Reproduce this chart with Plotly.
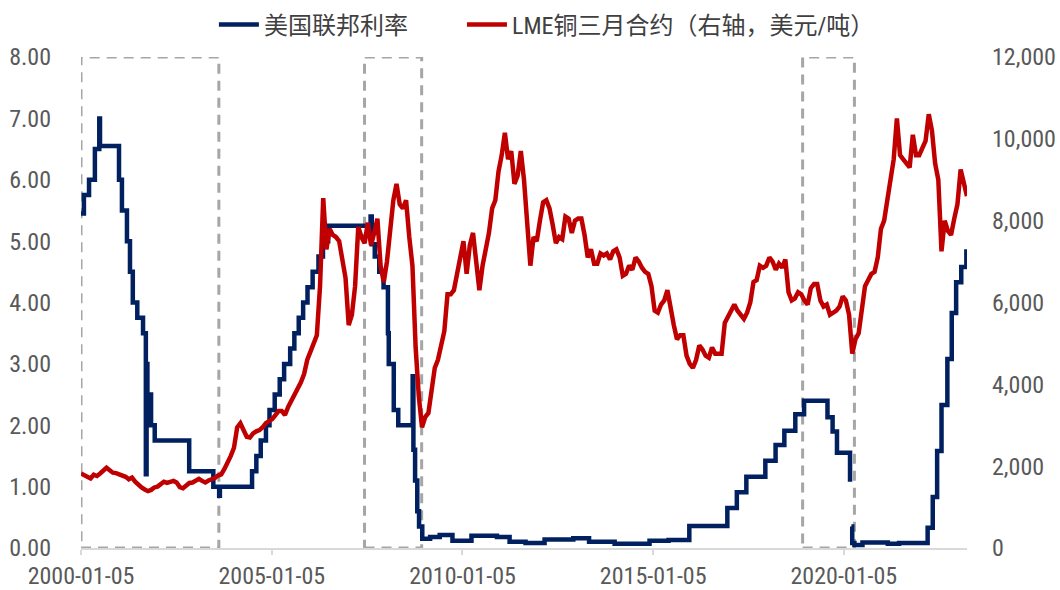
import pandas as pd
import plotly.graph_objects as go

# ---------------- data ----------------
# US Fed effective rate: level change points (step series)
fed_dates = [
    "2000-01-05", "2000-02-02", "2000-03-22", "2000-05-17", "2000-06-28", "2000-07-05",
    "2001-01-03", "2001-01-31", "2001-03-20", "2001-04-18", "2001-05-15", "2001-06-27",
    "2001-08-21", "2001-09-17", "2001-09-24", "2001-10-02", "2001-11-06", "2001-12-11",
    "2002-11-06", "2003-06-25", "2003-08-20", "2003-08-27",
    "2004-06-30", "2004-08-10", "2004-09-21", "2004-11-10", "2004-12-14",
    "2005-02-02", "2005-03-22", "2005-05-03", "2005-06-30", "2005-08-09", "2005-09-20",
    "2005-11-01", "2005-12-13", "2006-01-31", "2006-03-28", "2006-05-10", "2006-06-29",
    "2007-08-09", "2007-08-20", "2007-09-18", "2007-10-31", "2007-12-11",
    "2008-01-22", "2008-01-30", "2008-03-18", "2008-04-30", "2008-09-15", "2008-09-22",
    "2008-10-08", "2008-10-29", "2008-11-15", "2008-12-16",
    "2009-03-01", "2009-06-01", "2009-10-01", "2010-04-01", "2010-12-01", "2011-04-01",
    "2011-09-01", "2012-03-01", "2012-12-01", "2013-05-01", "2014-01-01", "2014-12-01",
    "2015-06-01", "2015-12-17", "2016-12-15", "2017-03-16", "2017-06-15", "2017-12-14",
    "2018-03-22", "2018-06-14", "2018-09-27", "2018-12-20", "2019-08-01", "2019-09-19",
    "2019-10-31", "2020-03-04", "2020-03-10", "2020-03-17", "2020-03-25", "2020-04-15",
    "2020-07-01", "2021-03-01", "2021-06-17", "2022-03-17", "2022-05-05", "2022-06-16",
    "2022-07-28", "2022-09-22", "2022-11-03", "2022-12-15", "2023-02-02", "2023-03-23",
    "2023-03-29",
]
fed_rates = [
    5.45, 5.75, 6.00, 6.50, 7.00, 6.55,
    6.00, 5.50, 5.00, 4.50, 4.00, 3.75,
    3.50, 1.20, 3.00, 2.50, 2.00, 1.75,
    1.25, 1.00, 0.85, 1.00,
    1.25, 1.50, 1.75, 2.00, 2.25,
    2.50, 2.75, 3.00, 3.25, 3.50, 3.75,
    4.00, 4.25, 4.50, 4.75, 5.00, 5.25,
    5.40, 4.95, 4.75, 4.50, 4.25,
    3.50, 3.00, 2.25, 2.00, 2.80, 1.60,
    1.10, 0.60, 0.35, 0.15,
    0.18, 0.21, 0.12, 0.20, 0.18, 0.10,
    0.08, 0.14, 0.16, 0.10, 0.07, 0.12,
    0.13, 0.36, 0.65, 0.91, 1.16, 1.42,
    1.68, 1.91, 2.18, 2.40, 2.13, 1.90,
    1.55, 1.08, None, 0.35, 0.08, 0.05,
    0.09, 0.07, 0.08, 0.33, 0.83, 1.58,
    2.33, 3.08, 3.83, 4.33, 4.58, 4.83,
    4.83,
]

# LME copper 3M (USD/t), monthly, Jan 2000 - Mar 2023
copper_prices = [
    1820, 1780, 1730, 1700, 1790, 1760, 1820, 1900, 1960, 1900, 1840, 1830,  # 2000
    1800, 1770, 1740, 1680, 1720, 1620, 1540, 1480, 1430, 1390, 1420, 1480,  # 2001
    1500, 1560, 1620, 1590, 1610, 1640, 1600, 1490, 1460, 1510, 1590, 1600,  # 2002
    1650, 1690, 1640, 1600, 1650, 1680, 1710, 1770, 1800, 1930, 2070, 2250,  # 2003
    2450, 2950, 3050, 2850, 2720, 2700, 2800, 2850, 2880, 2950, 3050, 3100,  # 2004
    3150, 3250, 3350, 3350, 3250, 3450, 3600, 3750, 3850, 4050, 4250, 4600,  # 2005
    4800, 5000, 5200, 6400, 8550, 7300, 7800, 7650, 7600, 7500, 7000, 6600,  # 2006
    5450, 5700, 6400, 7850, 7600, 7450, 7950, 7400, 7700, 8050, 6900, 6500,  # 2007
    7000, 7900, 8500, 8900, 8400, 8300, 8500, 7600, 6900, 4900, 3700, 2950,  # 2008
    3200, 3300, 3800, 4400, 4600, 5000, 5300, 6200, 6200, 6300, 6700, 7000,  # 2009
    7500, 6700, 7400, 7700, 6900, 6300, 6900, 7300, 7700, 8300, 8500, 9200,  # 2010
    9600, 10150, 9500, 9700, 8900, 9100, 9700, 9000, 8100, 6900, 7600, 7500,  # 2011
    8000, 8450, 8500, 8300, 7900, 7450, 7600, 7550, 8100, 8050, 7700, 8000,  # 2012
    8050, 8050, 7650, 7100, 7300, 6950, 6950, 7200, 7150, 7200, 7050, 7250,  # 2013
    7300, 7100, 6650, 6700, 6900, 6800, 7100, 7000, 6850, 6750, 6700, 6400,  # 2014
    5800, 5750, 5950, 6050, 6300, 5800, 5450, 5100, 5200, 5200, 4700, 4500,  # 2015
    4400, 4600, 4950, 4850, 4700, 4650, 4900, 4750, 4750, 4750, 5500, 5650,  # 2016
    5750, 5950, 5800, 5700, 5600, 5750, 6000, 6500, 6550, 6900, 6850, 6900,  # 2017
    7100, 7000, 6800, 6950, 6850, 7050, 6250, 6050, 6100, 6250, 6200, 6050,  # 2018
    5950, 6350, 6450, 6450, 6050, 5900, 5950, 5700, 5750, 5800, 5900, 6150,  # 2019
    6050, 5700, 4750, 5100, 5250, 5750, 6400, 6550, 6700, 6750, 7100, 7800,  # 2020
    8000, 8500, 9000, 9500, 10500, 9600, 9500, 9400, 9300, 10100, 9600, 9600,  # 2021
    9800, 9950, 10600, 10200, 9400, 9000, 7250, 8000, 7750, 7650, 8050, 8400,  # 2022
    9250, 8950, 8600,  # 2023
]

x_tick_dates = ["2000-01-05", "2005-01-05", "2010-01-05", "2015-01-05", "2020-01-05"]
x_tick_labels = ["2000-01-05", "2005-01-05", "2010-01-05", "2015-01-05", "2020-01-05"]
left_ticks = [0, 1, 2, 3, 4, 5, 6, 7, 8]
right_ticks = [0, 2000, 4000, 6000, 8000, 10000, 12000]

# highlighted periods (dashed boxes)
box_starts = ["2000-01-05", "2007-06-12", "2018-12-06"]
box_ends = ["2003-08-17", "2008-12-10", "2020-04-15"]

series_names = ["美国联邦利率", "LME铜三月合约（右轴，美元/吨）"]

# ---------------- figure ----------------
copper_dates = pd.date_range("2000-01-05", "2023-03-29", periods=len(copper_prices))

TICK_FONT = dict(family="Liberation Sans Narrow, Arial Narrow, Roboto Condensed, Liberation Sans, sans-serif",
                 size=24, color="#595959")
LEGEND_FONT = dict(family="Liberation Sans Narrow, Roboto Condensed, Noto Sans CJK SC, sans-serif",
                   size=24, color="#404040")

fig = go.Figure()
fig.add_trace(go.Scatter(
    x=fed_dates, y=fed_rates, name=series_names[0], mode="lines",
    line=dict(color="#002060", width=4.5, shape="hv"), connectgaps=False,
    legend="legend",
))
fig.add_trace(go.Scatter(
    x=copper_dates, y=copper_prices, name=series_names[1], mode="lines",
    line=dict(color="#C00000", width=4.5), yaxis="y2",
    legend="legend2",
))

for s, e in zip(box_starts, box_ends):
    fig.add_shape(type="rect", xref="x", yref="y", x0=s, x1=e, y0=0, y1=8,
                  line=dict(color="#A6A6A6", width=3, dash="10px,7px"),
                  fillcolor="rgba(0,0,0,0)", layer="below")

legend_common = dict(orientation="h", xanchor="left", xref="paper",
                     y=1 - 25 / 590, yanchor="middle", yref="container",
                     font=LEGEND_FONT, bgcolor="rgba(0,0,0,0)", itemwidth=40)

fig.update_layout(
    width=1060, height=590,
    margin=dict(l=81, r=93, t=57, b=42),
    paper_bgcolor="white", plot_bgcolor="white",
    showlegend=True,
    legend=dict(x=0.150, **legend_common),
    legend2=dict(x=0.430, **legend_common),
    xaxis=dict(type="date", range=["2000-01-05", "2023-03-29"],
               tickvals=x_tick_dates, ticktext=x_tick_labels,
               showgrid=False, zeroline=False, showline=True, linecolor="#D9D9D9", linewidth=2,
               ticks="outside", ticklen=5, tickwidth=2, tickcolor="#D9D9D9",
               tickfont=TICK_FONT, automargin=False, ticklabelstandoff=0),
    yaxis=dict(range=[0, 8], tickvals=left_ticks, tickformat=".2f",
               showgrid=False, zeroline=False, showline=False, ticks="",
               tickfont=TICK_FONT, automargin=False, ticklabelstandoff=29),
    yaxis2=dict(range=[0, 12000], tickvals=right_ticks, tickformat=",", overlaying="y", side="right",
                showgrid=False, zeroline=False, showline=False, ticks="",
                tickfont=TICK_FONT, automargin=False, ticklabelstandoff=24),
)

fig.write_html("out.html")
